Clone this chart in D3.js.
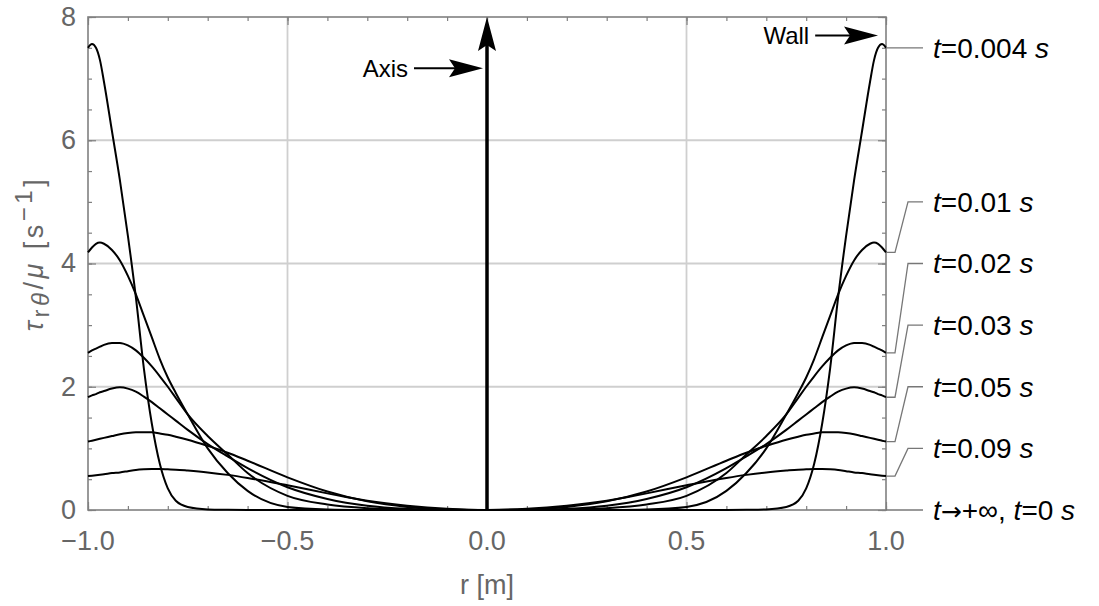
<!DOCTYPE html>
<meta charset="utf-8">
<head>
<style>
body { margin: 0; background: #fff; }
text { font-family: "Liberation Sans", Arial, sans-serif; }
.grid line { stroke: #cfcfcf; stroke-width: 1.8; }
.frame { fill: none; stroke: #808080; stroke-width: 1.6; }
.axis path { display: none; }
.axis line { stroke: #808080; stroke-width: 1.2; }
.tick-lbl { fill: #666; font-size: 27px; }
.curve { fill: none; stroke: #000; stroke-width: 2; }
.leader { fill: none; stroke: #777; stroke-width: 1.3; }
.lbl { fill: #000; font-size: 28px; }
</style>
</head>
<body>
<script src="https://cdn.jsdelivr.net/npm/d3@7"></script>
<svg id="chart" width="1099" height="606"></svg>
<script>

// radius grid (right half, the profile is mirrored onto r < 0)
var radius = [0, 0.1, 0.2, 0.3, 0.4, 0.5, 0.6, 0.65, 0.7, 0.75, 0.78, 0.8, 0.82, 0.84, 0.86, 0.88, 0.9, 0.92, 0.94, 0.96, 0.97, 0.98, 0.99, 1.0];

// tau_r_theta / mu, one list per time
var tau004 = [0, 0, 0, 0, 0, 0, 0, 0.003, 0.01, 0.05, 0.15, 0.35, 0.75, 1.4, 2.3, 3.45, 4.45, 5.35, 6.15, 6.95, 7.3, 7.5, 7.56, 7.5];
var tau01  = [0, 0, 0, 0.002, 0.01, 0.05, 0.31, 0.6, 1.0, 1.55, 1.9, 2.15, 2.45, 2.8, 3.15, 3.5, 3.8, 4.05, 4.22, 4.32, 4.34, 4.32, 4.26, 4.18];
var tau02  = [0, 0, 0.01, 0.03, 0.09, 0.23, 0.6, 0.9, 1.2, 1.55, 1.82, 2.0, 2.17, 2.33, 2.47, 2.59, 2.67, 2.71, 2.71, 2.68, 2.65, 2.62, 2.59, 2.55];
var tau03  = [0, 0.003, 0.02, 0.07, 0.18, 0.37, 0.68, 0.87, 1.07, 1.3, 1.45, 1.55, 1.65, 1.75, 1.84, 1.92, 1.97, 1.99, 1.97, 1.93, 1.91, 1.88, 1.86, 1.83];
var tau05  = [0, 0.01, 0.05, 0.14, 0.3, 0.53, 0.8, 0.93, 1.04, 1.14, 1.19, 1.22, 1.24, 1.26, 1.26, 1.26, 1.25, 1.23, 1.2, 1.17, 1.155, 1.14, 1.125, 1.11];
var tau09  = [0, 0.02, 0.07, 0.15, 0.27, 0.4, 0.52, 0.57, 0.61, 0.64, 0.655, 0.66, 0.665, 0.665, 0.66, 0.65, 0.63, 0.61, 0.6, 0.58, 0.572, 0.565, 0.557, 0.55];

var timeLabels = ["0.004", "0.01", "0.02", "0.03", "0.05", "0.09"];
var series = [tau004, tau01, tau02, tau03, tau05, tau09];

var xMajor = [-1, -0.5, 0, 0.5, 1];
var yMajor = [0, 2, 4, 6, 8];

var svg = d3.select("#chart"),
    margin = {top: 17, right: 213, bottom: 96, left: 88},
    width = +svg.attr("width") - margin.left - margin.right,
    height = +svg.attr("height") - margin.top - margin.bottom,
    g = svg.append("g").attr("transform", "translate(" + margin.left + "," + margin.top + ")");

var x = d3.scaleLinear().domain([-1, 1]).range([0, width]);
var y = d3.scaleLinear().domain([0, 8]).range([height, 0]);

var xMinor = d3.range(-10, 11).map(function(d) { return d / 10; });
var yMinor = d3.range(0, 17).map(function(d) { return d / 2; });

// grid
var grid = g.append("g").attr("class", "grid");
grid.selectAll(".gx").data(xMajor.slice(1, -1)).enter().append("line")
    .attr("x1", x).attr("x2", x).attr("y1", 0).attr("y2", height);
grid.selectAll(".gy").data(yMajor.slice(1, -1)).enter().append("line")
    .attr("y1", y).attr("y2", y).attr("x1", 0).attr("x2", width);

// ticks on all four sides, pointing inward
function ticks(axis, vals, size, tr) {
  g.append("g").attr("class", "axis").attr("transform", tr)
    .call(axis.tickValues(vals).tickSize(size).tickFormat(""));
}
ticks(d3.axisBottom(x), xMinor, -4, "translate(0," + height + ")");
ticks(d3.axisBottom(x), xMajor, -8, "translate(0," + height + ")");
ticks(d3.axisTop(x), xMinor, -4, "translate(0,0)");
ticks(d3.axisTop(x), xMajor, -8, "translate(0,0)");
ticks(d3.axisLeft(y), yMinor, -4, "translate(0,0)");
ticks(d3.axisLeft(y), yMajor, -8, "translate(0,0)");
ticks(d3.axisRight(y), yMinor, -4, "translate(" + width + ",0)");
ticks(d3.axisRight(y), yMajor, -8, "translate(" + width + ",0)");

g.append("rect").attr("class", "frame")
    .attr("width", width).attr("height", height);

// tick labels
var fmt = d3.format(".1f");
g.selectAll(".xl").data(xMajor).enter().append("text")
    .attr("class", "tick-lbl")
    .attr("x", x).attr("y", height + 40)
    .attr("text-anchor", "middle")
    .text(fmt);
g.selectAll(".yl").data(yMajor).enter().append("text")
    .attr("class", "tick-lbl")
    .attr("x", -12).attr("y", y).attr("dy", "0.33em")
    .attr("text-anchor", "end")
    .text(function(d) { return d; });

// axis titles
g.append("text").attr("class", "tick-lbl")
    .attr("x", x(0)).attr("y", height + 84)
    .attr("text-anchor", "middle")
    .text("r [m]");

var yt = g.append("text").attr("class", "tick-lbl")
    .attr("transform", "translate(-45," + (height / 2 - 10) + ") rotate(-90)")
    .attr("text-anchor", "middle")
    .style("letter-spacing", "3.5px");
yt.append("tspan").style("font-style", "italic").text("τ");
yt.append("tspan").attr("dy", 6).style("font-size", "24px").text("r");
yt.append("tspan").style("font-size", "24px").style("font-style", "italic").text("θ");
yt.append("tspan").attr("dy", -6).text("/");
yt.append("tspan").style("font-style", "italic").text("μ");
yt.append("tspan").text(" [s");
yt.append("tspan").attr("dy", -11).style("font-size", "24px").text("−1");
yt.append("tspan").attr("dy", 11).text("]");

// curves, mirrored about the axis
var line = d3.line()
    .x(function(d) { return x(d[0]); })
    .y(function(d) { return y(d[1]); })
    .curve(d3.curveMonotoneX);

function profile(vals) {
  var left = radius.map(function(r, i) { return [-r, vals[i]]; }).reverse();
  var right = radius.map(function(r, i) { return [r, vals[i]]; }).slice(1);
  return left.concat(right);
}

g.selectAll(".curve").data(series).enter().append("path")
    .attr("class", "curve")
    .attr("d", function(d) { return line(profile(d)); });

// axis arrow at r = 0
function head(px, py, angle) {
  return "translate(" + px + "," + py + ") rotate(" + angle + ")";
}
var headPath = "M0,0 L-34,-9 L-28,0 L-34,9 Z";

g.append("line")
    .attr("x1", x(0)).attr("x2", x(0))
    .attr("y1", y(0)).attr("y2", y(8) + 20)
    .attr("stroke", "#000").attr("stroke-width", 3.5);
g.append("path").attr("d", headPath).attr("transform", head(x(0), y(8), -90));

// "Axis" and "Wall" annotations
g.append("line")
    .attr("x1", x(0) - 73).attr("x2", x(0) - 20)
    .attr("y1", y(7.17)).attr("y2", y(7.17))
    .attr("stroke", "#000").attr("stroke-width", 2);
g.append("path").attr("d", headPath).attr("transform", head(x(0) - 4, y(7.17), 0));
g.append("text").attr("x", x(0) - 79).attr("y", y(7.17)).attr("dy", "0.35em")
    .attr("text-anchor", "end").style("font-size", "24px").text("Axis");

g.append("line")
    .attr("x1", x(0.8225)).attr("x2", x(0.98) - 20)
    .attr("y1", y(7.7)).attr("y2", y(7.7))
    .attr("stroke", "#000").attr("stroke-width", 2);
g.append("path").attr("d", headPath).attr("transform", head(x(0.98), y(7.7), 0));
g.append("text").attr("x", x(0.8075)).attr("y", y(7.7)).attr("dy", "0.35em")
    .attr("text-anchor", "end").style("font-size", "24px").text("Wall");

// labels at the wall
var x1 = width;
series.forEach(function(vals, i) {
  var endY = y(vals[vals.length - 1]);
  var labY = i === 0 ? endY : y(6 - i);
  var p = i === 0
    ? "M" + x1 + "," + endY + "H" + (x1 + 37)
    : "M" + x1 + "," + endY + "H" + (x1 + 9) + "L" + (x1 + 22) + "," + labY + "H" + (x1 + 37);
  g.append("path").attr("class", "leader").attr("d", p);
  var t = g.append("text").attr("class", "lbl")
      .attr("x", x1 + 47).attr("y", labY).attr("dy", "0.35em");
  t.append("tspan").style("font-style", "italic").text("t");
  t.append("tspan").text("=" + timeLabels[i] + " ");
  t.append("tspan").style("font-style", "italic").text("s");
});

g.append("path").attr("class", "leader")
    .attr("d", "M" + x1 + "," + y(0) + "H" + (x1 + 37));
var tl = g.append("text").attr("class", "lbl")
    .attr("x", x1 + 47).attr("y", y(0)).attr("dy", "0.35em");
tl.append("tspan").style("font-style", "italic").text("t");
tl.append("tspan").style("font-family", "DejaVu Sans").style("font-size", "25px").text("→");
tl.append("tspan").text("+∞, ");
tl.append("tspan").style("font-style", "italic").text("t");
tl.append("tspan").text("=0 ");
tl.append("tspan").style("font-style", "italic").text("s");

</script>
</body>
</html>
